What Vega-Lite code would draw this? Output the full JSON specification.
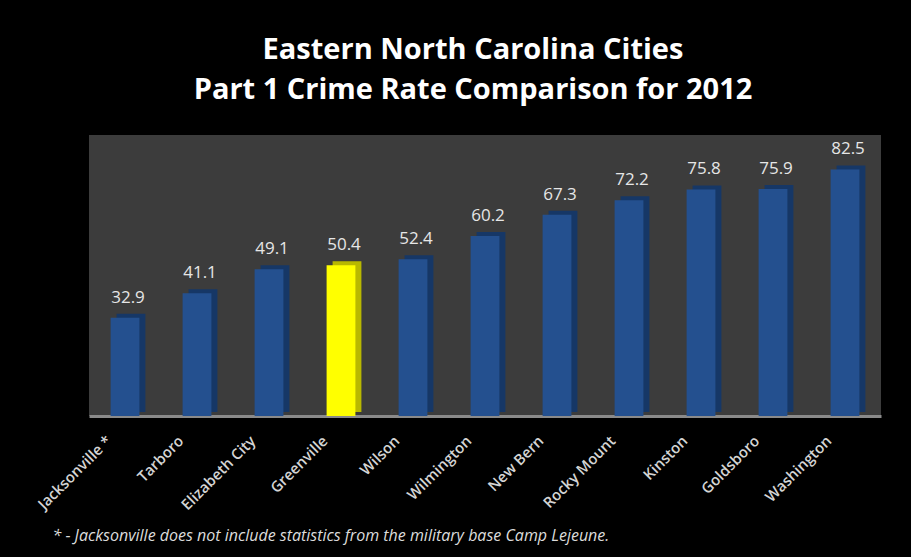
{
  "$schema": "https://vega.github.io/schema/vega-lite/v6.json",
  "width": 792,
  "height": 281,
  "autosize": "none",
  "padding": {"left": 89, "top": 135, "right": 30, "bottom": 141},
  "background": "#000000",
  "title": {
    "text": ["Eastern North Carolina Cities", "Part 1 Crime Rate Comparison for 2012"],
    "color": "#ffffff",
    "font": "Open Sans",
    "fontSize": 29,
    "fontWeight": "bold",
    "lineHeight": 40,
    "anchor": "middle",
    "dx": -12,
    "offset": 30
  },
  "config": {
    "view": {"fill": "#3c3c3c", "stroke": null}
  },
  "data": {
    "values": [
      {"city": "Jacksonville *", "rate": 32.9, "group": "other"},
      {"city": "Tarboro", "rate": 41.1, "group": "other"},
      {"city": "Elizabeth City", "rate": 49.1, "group": "other"},
      {"city": "Greenville", "rate": 50.4, "group": "Greenville"},
      {"city": "Wilson", "rate": 52.4, "group": "other"},
      {"city": "Wilmington", "rate": 60.2, "group": "other"},
      {"city": "New Bern", "rate": 67.3, "group": "other"},
      {"city": "Rocky Mount", "rate": 72.2, "group": "other"},
      {"city": "Kinston", "rate": 75.8, "group": "other"},
      {"city": "Goldsboro", "rate": 75.9, "group": "other"},
      {"city": "Washington", "rate": 82.5, "group": "other"}
    ]
  },
  "encoding": {
    "x": {
      "field": "city",
      "type": "nominal",
      "sort": null,
      "scale": {"paddingInner": 0, "paddingOuter": 0},
      "axis": {
        "title": "* - Jacksonville does not include statistics from the military base Camp Lejeune.",
        "titleFont": "Open Sans",
        "titleFontSize": 16,
        "titleFontStyle": "italic",
        "titleFontWeight": "normal",
        "titleColor": "#dcdcdc",
        "titleAlign": "left",
        "titleAnchor": "start",
        "titleBaseline": "middle",
        "titleX": -37,
        "titleY": 119,
        "labelAngle": -45,
        "labelAlign": "right",
        "labelBaseline": "middle",
        "labelFont": "Open Sans",
        "labelFontSize": 15,
        "labelFontWeight": 600,
        "labelColor": "#d4d4d4",
        "labelPadding": 22,
        "labelOffset": -16,
        "ticks": false,
        "domainColor": "#8a8a8a",
        "domainWidth": 3
      }
    },
    "y": {
      "field": "rate",
      "type": "quantitative",
      "scale": {"domain": [0, 94], "nice": false},
      "axis": null
    }
  },
  "layer": [
    {
      "mark": {"type": "bar", "width": {"band": 0.4}, "xOffset": 6, "yOffset": -4},
      "encoding": {
        "color": {
          "field": "group",
          "type": "nominal",
          "scale": {"domain": ["other", "Greenville"], "range": ["#163766", "#b8b800"]},
          "legend": null
        }
      }
    },
    {
      "mark": {"type": "bar", "width": {"band": 0.4}},
      "encoding": {
        "fill": {
          "field": "group",
          "type": "nominal",
          "scale": {"domain": ["other", "Greenville"], "range": ["#24508f", "#ffff00"]},
          "legend": null
        }
      }
    },
    {
      "mark": {"type": "text", "dy": -20, "dx": 3, "font": "Open Sans", "fontSize": 17, "color": "#e6e6e6"},
      "encoding": {
        "text": {"field": "rate", "type": "quantitative", "format": ".1f"}
      }
    }
  ],
  "resolve": {"scale": {"color": "independent", "fill": "independent"}}
}
